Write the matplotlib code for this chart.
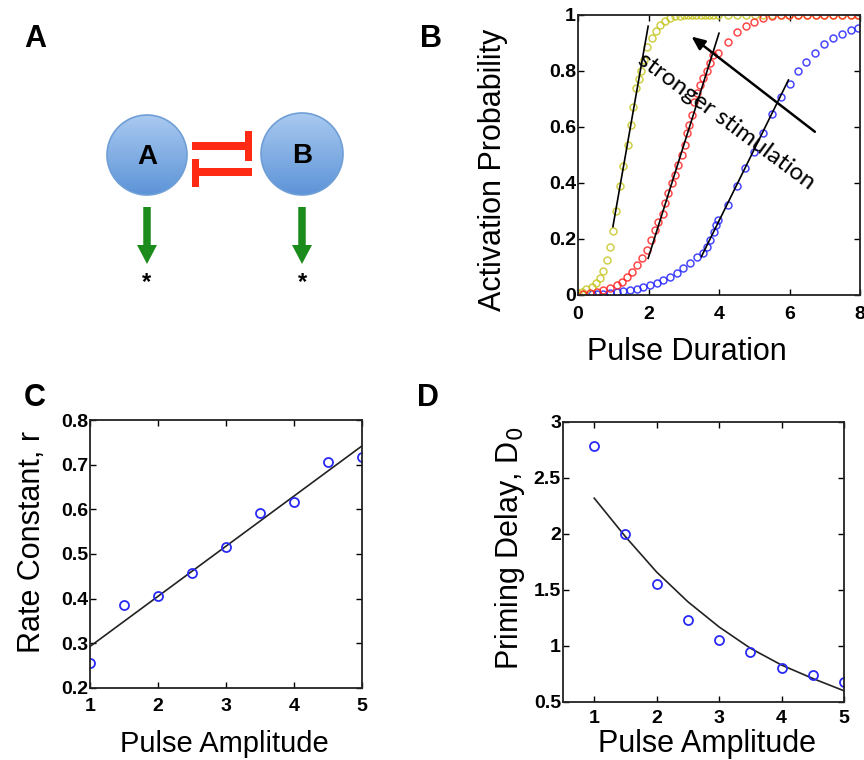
import numpy as np
import matplotlib
matplotlib.use("Agg")
import matplotlib.pyplot as plt
from matplotlib import patches
from matplotlib.colors import LinearSegmentedColormap

plt.rcParams['font.family'] = ['Liberation Sans', 'DejaVu Sans']

# ---- panel B: activation probability vs pulse duration
yellow_x = [0.0, 0.1, 0.24, 0.39, 0.51, 0.62, 0.72, 0.83, 0.91, 0.98, 1.09, 1.19, 1.29,
            1.42, 1.50, 1.57, 1.65, 1.72, 1.80, 1.87, 1.97, 2.09, 2.21, 2.33, 2.47, 2.61,
            2.75, 2.88, 3.0, 3.12, 3.24, 3.36, 3.48, 3.6, 3.72, 3.84, 3.96, 4.26, 4.51,
            4.77, 5.02, 5.25, 5.5, 5.76, 5.99, 6.24, 6.5, 6.75, 6.98, 7.24, 7.5, 7.75, 7.95]
yellow_y = [0.006, 0.01, 0.02, 0.027, 0.042, 0.06, 0.087, 0.125, 0.17, 0.23, 0.30, 0.39, 0.46,
            0.536, 0.607, 0.67, 0.74, 0.77, 0.80, 0.84, 0.885, 0.917, 0.944, 0.964, 0.979, 0.99,
            0.996, 0.998, 0.999, 1.0, 1.0, 1.0, 1.0, 1.0, 1.0, 1.0, 1.0, 1.0, 1.0,
            1.0, 1.0, 1.0, 1.0, 1.0, 1.0, 1.0, 1.0, 1.0, 1.0, 1.0, 1.0, 1.0, 1.0]

red_x = [0.15, 0.34, 0.53, 0.72, 0.91, 1.10, 1.24, 1.38, 1.52, 1.67, 1.81, 1.95, 2.07, 2.18,
         2.28, 2.40, 2.47, 2.56, 2.66, 2.75, 2.85, 2.94, 3.04, 3.10, 3.16, 3.22, 3.29, 3.38,
         3.46, 3.55, 3.65, 3.74, 3.84, 3.98, 4.25, 4.5, 4.76, 5.0, 5.26, 5.5, 5.76, 5.99,
         6.24, 6.5, 6.75, 6.98, 7.24, 7.5, 7.75, 7.95]
red_y = [0.004, 0.007, 0.012, 0.018, 0.024, 0.036, 0.048, 0.065, 0.083, 0.107, 0.131, 0.16,
         0.196, 0.232, 0.262, 0.29, 0.327, 0.363, 0.40, 0.43, 0.464, 0.50, 0.536, 0.577, 0.607,
         0.643, 0.69, 0.72, 0.75, 0.774, 0.80, 0.827, 0.857, 0.864, 0.905, 0.94, 0.96, 0.976,
         0.988, 0.998, 1.0, 1.0, 1.0, 1.0, 1.0, 1.0, 1.0, 1.0, 1.0, 1.0]

blue_x = [0.39, 0.53, 0.72, 0.91, 1.10, 1.29, 1.48, 1.67, 1.85, 2.04, 2.23, 2.42, 2.61, 2.80,
          2.99, 3.18, 3.37, 3.55, 3.65, 3.75, 3.85, 3.92, 3.98, 4.25, 4.5, 4.74, 5.0, 5.24,
          5.51, 5.76, 6.01, 6.23, 6.46, 6.72, 6.99, 7.24, 7.48, 7.75, 7.95]
blue_y = [0.002, 0.003, 0.005, 0.007, 0.010, 0.013, 0.017, 0.021, 0.028, 0.036, 0.042, 0.054,
          0.065, 0.077, 0.095, 0.113, 0.137, 0.149, 0.17, 0.195, 0.225, 0.25, 0.268, 0.32,
          0.39, 0.452, 0.512, 0.58, 0.645, 0.706, 0.754, 0.80, 0.833, 0.863, 0.896, 0.917,
          0.932, 0.946, 0.952]

# tangent lines (endpoints)
tan_yellow = ([0.99, 1.99], [0.244, 0.96])
tan_red = ([1.99, 4.0], [0.131, 0.935])
tan_blue = ([3.5, 5.97], [0.137, 0.768])

# ---- panel C: rate constant vs pulse amplitude
amp = [1, 1.5, 2, 2.5, 3, 3.5, 4, 4.5, 5]
rate = [0.255, 0.385, 0.405, 0.458, 0.515, 0.592, 0.617, 0.707, 0.717]
rate_fit_x = [1, 5]
rate_fit_y = [0.293, 0.742]

# ---- panel D: priming delay vs pulse amplitude
delay = [2.79, 2.0, 1.55, 1.23, 1.05, 0.95, 0.80, 0.74, 0.68]
delay_fit = [2.32, 1.976, 1.66, 1.395, 1.17, 0.98, 0.83, 0.71, 0.60]

nodes = ['A', 'B']

fig = plt.figure(figsize=(8.64, 7.6), dpi=100)
W, H = 864, 760


def px_axes(l, t, r, b):
    return fig.add_axes([l / W, 1 - b / H, (r - l) / W, (b - t) / H])


def style(ax, xpad=7):
    ax.tick_params(direction='in', top=True, right=True, length=4, width=1,
                   labelsize=14)
    ax.tick_params(axis='x', pad=xpad)
    ax.tick_params(axis='y', pad=1.5)
    for lab in ax.get_xticklabels() + ax.get_yticklabels():
        lab.set_fontweight('bold')
    for s in ax.spines.values():
        s.set_linewidth(1.3)
        s.set_color('#222222')


# ---------------- panel A diagram ----------------
axa = fig.add_axes([0, 1 - 330 / H, 400 / W, 330 / H])
axa.axis('off')
grad = np.linspace(0, 1, 100)[:, None]
cmap = LinearSegmentedColormap.from_list('node', ['#a9c9f0', '#5d94d8'])
for name, cx, cy, rad in [(nodes[0], 147, 155, 40), (nodes[1], 302, 154, 41)]:
    im = axa.imshow(grad, cmap=cmap, extent=[cx - rad, cx + rad, cy + rad, cy - rad],
                    aspect='auto', zorder=1)
    circ = patches.Circle((cx, cy), rad, transform=axa.transData, facecolor='none',
                          edgecolor='#6f9fd6', lw=1.2, zorder=2)
    axa.add_patch(circ)
    im.set_clip_path(circ)
    axa.text(cx, cy + 2, name, ha='center', va='center', fontsize=20,
             fontweight='bold', zorder=3)
    axa.add_patch(patches.FancyArrow(cx, 207, 0, 57, width=7.5, head_width=20,
                                     head_length=19, length_includes_head=True,
                                     color='#1b8c1b', lw=0))
    axa.text(cx, 283, '*', ha='center', va='center', fontsize=17, fontweight='bold')
axa.set_xlim(0, 400)
axa.set_ylim(330, 0)
red = '#ff2a14'
axa.add_patch(patches.Rectangle((192, 142), 56, 8, color=red, lw=0))
axa.add_patch(patches.Rectangle((245, 131), 7, 30, color=red, lw=0))
axa.add_patch(patches.Rectangle((195, 168), 57, 8, color=red, lw=0))
axa.add_patch(patches.Rectangle((192, 159), 7, 28, color=red, lw=0))

# ---------------- panel B ----------------
axb = px_axes(578, 15, 860, 295)
mk = dict(ls='none', marker='o', ms=5, mfc='none', mew=1.1, alpha=0.8)
axb.plot(blue_x, blue_y, color='#1a1aff', **mk)
axb.plot(yellow_x, yellow_y, color='#c4c41c', **mk)
axb.plot(red_x, red_y, color='#ff1a1a', **mk)
for tx, ty in (tan_yellow, tan_red, tan_blue):
    axb.plot(tx, ty, color='black', lw=1.2)
axb.annotate('', xy=(3.22, 0.923), xytext=(6.72, 0.583),
             arrowprops=dict(arrowstyle='-|>,head_length=0.8,head_width=0.35',
                             color='black', lw=1.8, shrinkA=0, shrinkB=0))
axb.text(4.2, 0.62, 'stronger stimulation', rotation=-36.5, ha='center', va='center',
         fontsize=17.5, family=['Lato', 'DejaVu Sans'], rotation_mode='anchor')
axb.set_xlim(0, 8)
axb.set_ylim(0, 1)
axb.set_xticks([0, 2, 4, 6, 8])
axb.set_yticks([0, 0.2, 0.4, 0.6, 0.8, 1])
axb.set_yticklabels(['0', '0.2', '0.4', '0.6', '0.8', '1'])
axb.set_xlabel('Pulse Duration', fontsize=22)
axb.set_ylabel('Activation Probability', fontsize=22)
axb.xaxis.set_label_coords(0.387, -0.15)
axb.yaxis.set_label_coords(-0.249, 0.446)
style(axb, xpad=8)

# ---------------- panel C ----------------
axc = px_axes(90, 420, 362, 688)
axc.plot(rate_fit_x, rate_fit_y, color='#222222', lw=1.2)
axc.plot(amp, rate, ls='none', marker='o', ms=6.5, mfc='none', mew=1.3, color='#2a2af5')
axc.set_xlim(1, 5)
axc.set_ylim(0.2, 0.8)
axc.set_xticks([1, 2, 3, 4, 5])
axc.set_yticks([0.2, 0.3, 0.4, 0.5, 0.6, 0.7, 0.8])
axc.set_xlabel('Pulse Amplitude', fontsize=21)
axc.set_ylabel('Rate Constant, r', fontsize=22)
axc.xaxis.set_label_coords(0.493, -0.155)
axc.yaxis.set_label_coords(-0.158, 0.545)
style(axc, xpad=7)

# ---------------- panel D ----------------
axd = px_axes(563, 422, 844, 702)
axd.plot(amp, delay_fit, color='#222222', lw=1.2)
axd.plot(amp, delay, ls='none', marker='o', ms=6.5, mfc='none', mew=1.3, color='#2a2af5')
axd.set_xlim(0.5, 5)
axd.set_ylim(0.5, 3)
axd.set_xticks([1, 2, 3, 4, 5])
axd.set_yticks([0.5, 1, 1.5, 2, 2.5, 3])
axd.set_yticklabels(['0.5', '1', '1.5', '2', '2.5', '3'])
axd.set_xlabel('Pulse Amplitude', fontsize=22)
axd.set_ylabel('Priming Delay, D$_0$', fontsize=22)
axd.xaxis.set_label_coords(0.512, -0.098)
axd.yaxis.set_label_coords(-0.129, 0.55)
style(axd, xpad=6)

# panel letters
for letter, x, y in [('A', 35, 39), ('B', 431, 39), ('C', 35, 398), ('D', 428, 398)]:
    fig.text(x / W, 1 - y / H, letter, fontsize=22, fontweight='bold',
             ha='center', va='center')

fig.savefig('out.png', dpi=100)
